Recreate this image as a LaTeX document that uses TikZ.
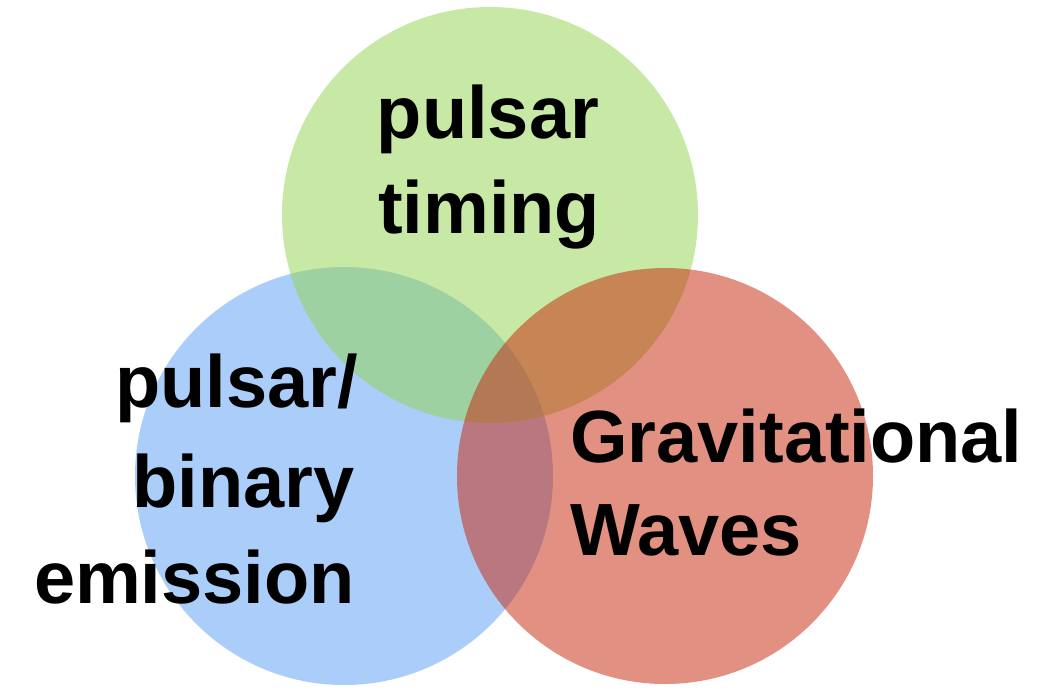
\documentclass[tikz,border=0pt]{standalone}
\usepackage{fontspec}
\setmainfont{Liberation Sans}
\definecolor{vblue}{RGB}{89,157,245}
\definecolor{vgreen}{RGB}{145,213,77}
\definecolor{vred}{RGB}{199,35,7}
\tikzset{
  disc/.style={fill opacity=0.5},
  lbl/.style={inner sep=0pt, font=\fontsize{74}{95}\selectfont\bfseries, text=black}
}
\begin{document}
\begin{tikzpicture}[x=1pt,y=-1pt]
\useasboundingbox (0,0) rectangle (1054,691);
\fill[white] (0,0) rectangle (1054,691);
\fill[vblue,disc] (344,476) circle[radius=209pt];
\fill[vgreen,disc] (490,215) circle[radius=208pt];
\fill[vred,disc] (665,476) circle[radius=208pt];
% top label
\node[lbl,anchor=base] (pt1) at (488,138) {pulsar};
\node[lbl,anchor=base] (pt2) at (489,233) {timing};
% left label
\node[lbl,anchor=base east] (pb1) at (358,407) {pulsar/};
\node[lbl,anchor=base east] (pb2) at (355,507) {binary};
\node[lbl,anchor=base east] (pb3) at (355,603) {emission};
% right label
\node[lbl,anchor=base west] (gw1) at (570,462) {Gravitational};
\node[lbl,anchor=base west] (gw2) at (570,555) {Waves};
\end{tikzpicture}
\end{document}
